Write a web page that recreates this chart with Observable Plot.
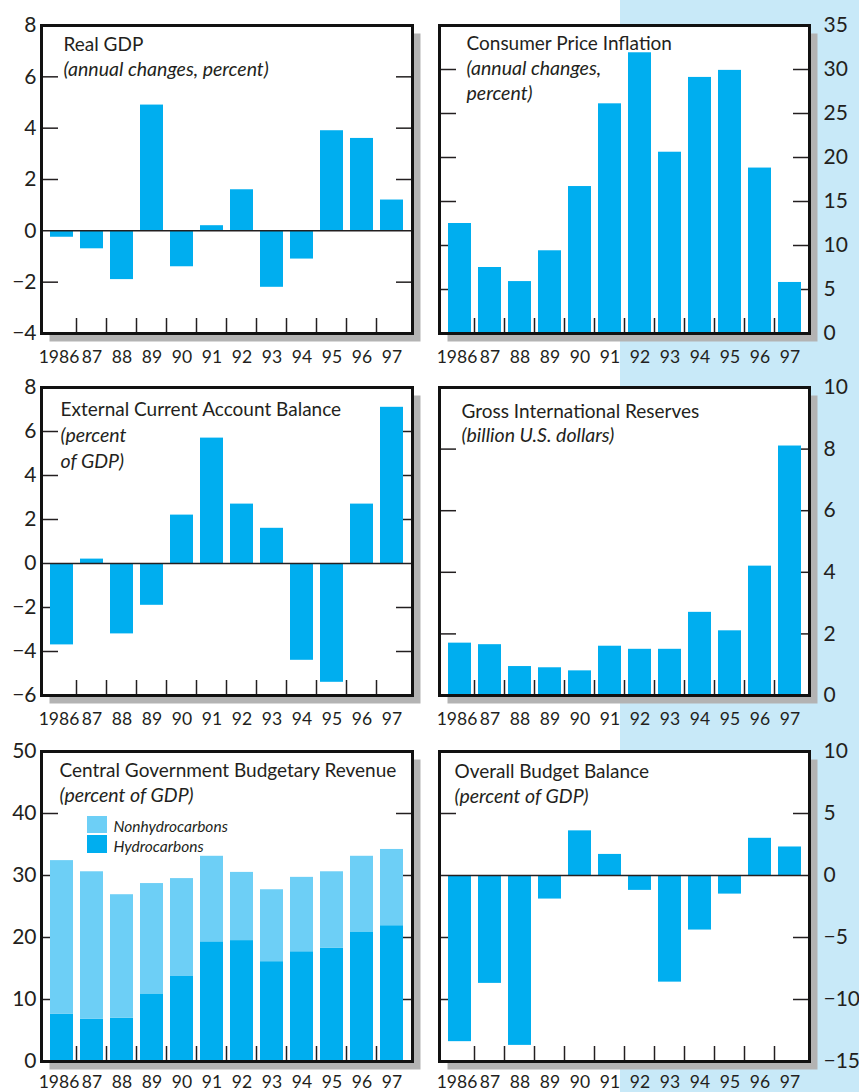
<!DOCTYPE html>
<html><head><meta charset="utf-8">
<script src="https://cdn.jsdelivr.net/npm/d3@7"></script>
<script src="https://cdn.jsdelivr.net/npm/@observablehq/plot@0.6"></script>
<style>
html,body{margin:0;padding:0;overflow:hidden;background:#fff}
#page{position:relative;width:859px;height:1092px;overflow:hidden;background:#fff}
#band{position:absolute;left:620px;top:0;width:239px;height:1092px;background:#c8e9f8}
.cell{position:absolute;width:430px}
.cell svg{display:block;max-width:none}
</style></head><body><div id="page"><div id="band"></div></div>
<script>
// ---- data ----
const years = ["1986","87","88","89","90","91","92","93","94","95","96","97"];
const realGDP = [-0.25, -0.7, -1.9, 4.9, -1.4, 0.2, 1.6, -2.2, -1.1, 3.9, 3.6, 1.2];
const cpi = [12.5, 7.5, 5.9, 9.4, 16.7, 26.1, 31.9, 20.6, 29.1, 29.9, 18.8, 5.8];
const currentAccount = [-3.7, 0.2, -3.2, -1.9, 2.2, 5.7, 2.7, 1.6, -4.4, -5.4, 2.7, 7.1];
const reserves = [1.7, 1.65, 0.94, 0.9, 0.8, 1.6, 1.5, 1.5, 2.7, 2.1, 4.2, 8.1];
const hydrocarbons = [7.6, 6.8, 7.0, 10.9, 13.8, 19.3, 19.5, 16.1, 17.7, 18.3, 20.9, 21.9];
const nonhydrocarbons = [24.8, 23.8, 19.9, 17.8, 15.7, 13.8, 11.0, 11.6, 12.0, 12.3, 12.2, 12.3];
const budgetBalance = [-13.4, -8.7, -13.7, -1.9, 3.6, 1.7, -1.2, -8.6, -4.4, -1.5, 3.0, 2.3];

const gdpTicks = [-4, -2, 0, 2, 4, 6, 8];
const cpiTicks = [0, 5, 10, 15, 20, 25, 30, 35];
const caTicks = [-6, -4, -2, 0, 2, 4, 6, 8];
const resTicks = [0, 2, 4, 6, 8, 10];
const revTicks = [0, 10, 20, 30, 40, 50];
const balTicks = [-15, -10, -5, 0, 5, 10];

// ---- style ----
const INK = "#231f20", BAR = "#00aeef", LIGHT = "#6dcff6", SHADOW = "#b3b3b3";
const FONT = "Lato, 'Noto Sans', sans-serif";
const TITLE = 19, SUB = 19.5, XFS = 17.5;

function rows(values) { return years.map((y, i) => ({year: y, value: values[i]})); }

function bandTicks(len) {
  return (index, scales, values, dims) => {
    const x = scales.x, gap = (x.step() - x.bandwidth()) / 2;
    const yb = dims.height - dims.marginBottom;
    const g = d3.create("svg:g").attr("stroke", INK).attr("stroke-width", 1.5);
    for (const d of x.domain().slice(1)) {
      const px = x(d) - gap;
      g.append("line").attr("x1", px).attr("x2", px).attr("y1", yb).attr("y2", yb - len);
    }
    return g.node();
  };
}

function line(str, dx, dy, size, italic) {
  return Plot.text([str], {text: d => d, frameAnchor: "top-left", dx, dy, lineAnchor: "bottom",
    textAnchor: "start", fontSize: size, fontStyle: italic ? "italic" : "normal", fill: INK});
}

function panel(cfg) {
  const {left, top, side, frameH, mb, domain, labelTicks, innerTicks, marks, texts, zero, xPad = 17} = cfg;
  const ml = side === "L" ? 41 : 10, mr = side === "L" ? 18 : 50, mt = 25;
  const plot = Plot.plot({
    width: 430, height: mt + frameH + mb,
    marginLeft: ml, marginRight: mr, marginTop: mt, marginBottom: mb,
    style: {background: "transparent", fontFamily: FONT, color: INK, overflow: "visible"},
    x: {type: "band", domain: years, paddingInner: 0.25, paddingOuter: 0.125},
    y: {domain},
    marks: [
      Plot.frame({fill: SHADOW, dx: 8, dy: 8}),
      Plot.frame({fill: "white"}),
      Plot.axisY({anchor: "left", ticks: innerTicks, tickSize: 17, dx: 17, tickFormat: () => "", label: null, strokeWidth: 1.5}),
      Plot.axisY({anchor: "right", ticks: innerTicks, tickSize: 17, dx: -17, tickFormat: () => "", label: null, strokeWidth: 1.5}),
      ...marks,
      zero ? Plot.ruleY([0], {stroke: INK, strokeWidth: 1.5}) : null,
      bandTicks(15),
      Plot.axisY({anchor: side === "L" ? "left" : "right", ticks: labelTicks, tickSize: 0,
        tickPadding: side === "L" ? 5 : 14, label: null, fontSize: 21}),
      Plot.axisX({anchor: "bottom", ticks: years.slice(0, 1), tickSize: 0, tickPadding: xPad, label: null, fontSize: XFS, dx: -3}),
      Plot.axisX({anchor: "bottom", ticks: years.slice(1), tickSize: 0, tickPadding: xPad, label: null, fontSize: XFS}),
      ...texts,
      Plot.frame({stroke: "#111", strokeWidth: 3})
    ]
  });
  const div = document.createElement("div");
  div.className = "cell";
  div.style.left = left + "px";
  div.style.top = top + "px";
  div.appendChild(plot);
  document.getElementById("page").appendChild(div);
}

// Row 1
panel({left: 0, top: 0, side: "L", frameH: 308, mb: 40, domain: [-4, 8], zero: true,
  labelTicks: gdpTicks, innerTicks: [-2, 2, 4, 6],
  marks: [Plot.barY(rows(realGDP), {x: "year", y: "value", fill: BAR})],
  texts: [line("Real GDP", 22, 25, TITLE, false), line("(annual changes, percent)", 22, 50, SUB, true)]});

panel({left: 429, top: 0, side: "R", frameH: 308, mb: 40, domain: [0, 35],
  labelTicks: cpiTicks, innerTicks: [5, 10, 15, 20, 25, 30],
  marks: [Plot.barY(rows(cpi), {x: "year", y: "value", fill: BAR})],
  texts: [line("Consumer Price Inflation", 27, 24, TITLE, false),
          line("(annual changes,", 27, 49, SUB, true), line("percent)", 27, 74, SUB, true)]});

// Row 2
panel({left: 0, top: 362, side: "L", frameH: 308, mb: 40, domain: [-6, 8], zero: true,
  labelTicks: caTicks, innerTicks: [-4, -2, 2, 4, 6],
  marks: [Plot.barY(rows(currentAccount), {x: "year", y: "value", fill: BAR})],
  texts: [line("External Current Account Balance", 19, 28, TITLE, false),
          line("(percent", 19, 54, SUB, true), line("of GDP)", 19, 80, SUB, true)]});

panel({left: 429, top: 362, side: "R", frameH: 308, mb: 40, domain: [0, 10],
  labelTicks: resTicks, innerTicks: [2, 4, 6, 8],
  marks: [Plot.barY(rows(reserves), {x: "year", y: "value", fill: BAR})],
  texts: [line("Gross International Reserves", 22, 30, TITLE, false),
          line("(billion U.S. dollars)", 22, 54, SUB, true)]});

// Row 3
const revRows = years.flatMap((y, i) => [
  {year: y, type: "Hydrocarbons", value: hydrocarbons[i]},
  {year: y, type: "Nonhydrocarbons", value: nonhydrocarbons[i]}
]);
const legendSwatches = (index, scales, values, dims) => {
  const g = d3.create("svg:g");
  const x0 = dims.marginLeft + 46, y0 = dims.marginTop + 65;
  g.append("rect").attr("x", x0).attr("y", y0).attr("width", 20).attr("height", 17).attr("fill", LIGHT);
  g.append("rect").attr("x", x0).attr("y", y0 + 19).attr("width", 20).attr("height", 18).attr("fill", BAR);
  return g.node();
};
panel({left: 0, top: 726, side: "L", frameH: 310, mb: 31, domain: [0, 50], xPad: 14,
  labelTicks: revTicks, innerTicks: [10, 20, 30, 40],
  marks: [Plot.barY(revRows, {x: "year", y: "value", fill: d => d.type === "Hydrocarbons" ? BAR : LIGHT}), legendSwatches],
  texts: [line("Central Government Budgetary Revenue", 18, 25, TITLE, false),
          line("(percent of GDP)", 18, 50, SUB, true),
          line("Nonhydrocarbons", 72, 80, 15.5, true),
          line("Hydrocarbons", 72, 100, 15.5, true)]});

panel({left: 429, top: 726, side: "R", frameH: 310, mb: 31, domain: [-15, 10], zero: true, xPad: 14,
  labelTicks: balTicks, innerTicks: [-10, -5, 5],
  marks: [Plot.barY(rows(budgetBalance), {x: "year", y: "value", fill: BAR})],
  texts: [line("Overall Budget Balance", 15, 26, TITLE, false),
          line("(percent of GDP)", 15, 51, SUB, true)]});
</script></body></html>
